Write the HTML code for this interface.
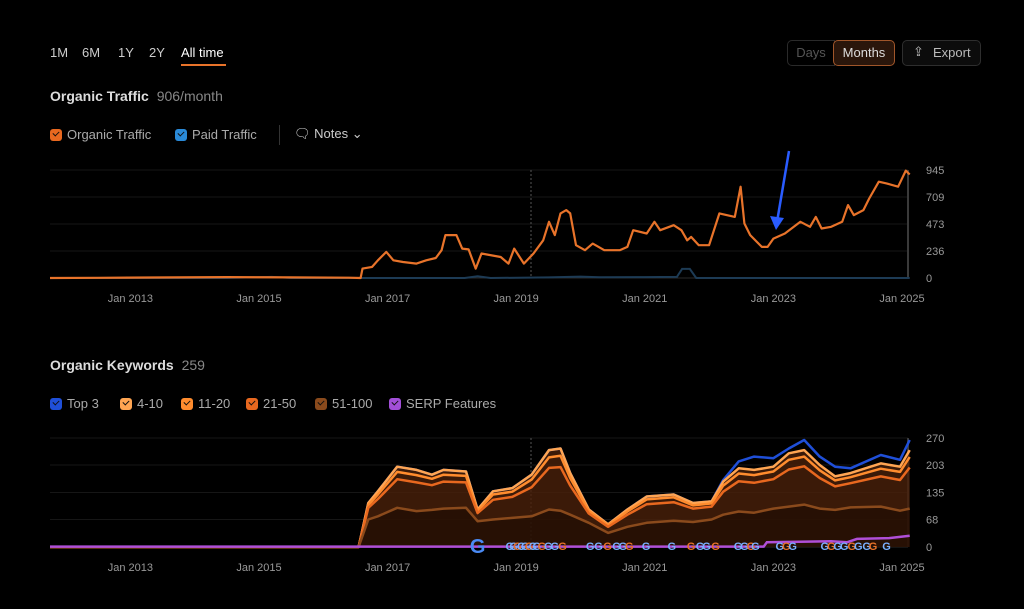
<!DOCTYPE html>
<html><head><meta charset="utf-8">
<style>
body{margin:0;width:1024px;height:609px;background:#000;overflow:hidden;font-family:"Liberation Sans",sans-serif;color:#ccc;}
.abs{position:absolute;}
.tab{position:absolute;top:45px;font-size:13px;color:#ccc;}
.chk{display:inline-block;width:12px;height:12px;border-radius:3px;vertical-align:-2px;margin-right:5px;position:relative}
.chk:after{content:"";position:absolute;left:3px;top:2px;width:5px;height:3px;border-left:1.5px solid #111;border-bottom:1.5px solid #111;transform:rotate(-45deg)}
.leg{position:absolute;font-size:13px;color:#aaa;}
</style></head><body>
<div class="tab" style="left:50px">1M</div>
<div class="tab" style="left:82px">6M</div>
<div class="tab" style="left:118px">1Y</div>
<div class="tab" style="left:149px">2Y</div>
<div class="tab" style="left:181px;color:#fff">All time</div>
<div class="abs" style="left:181px;top:64px;width:45px;height:2px;background:#e8732a"></div>

<div class="abs" style="left:787px;top:40px;width:46px;height:24px;border:1px solid #2a2a2a;border-radius:5px 0 0 5px;font-size:13px;color:#555;text-align:center;line-height:24px">Days</div>
<div class="abs" style="left:833px;top:40px;width:60px;height:24px;border:1px solid #a0562a;border-radius:5px;background:#2a160b;font-size:13px;color:#ddd;text-align:center;line-height:24px">Months</div>
<div class="abs" style="left:902px;top:40px;width:77px;height:24px;border:1px solid #2e2e2e;border-radius:5px;background:#0c0c0c;font-size:13px;color:#bbb;line-height:24px"><span style="position:absolute;left:10px;top:-1px;font-size:13px">⇪</span><span style="position:absolute;left:30px">Export</span></div>

<div class="abs" style="left:50px;top:88px;font-size:14px;font-weight:bold;color:#ddd">Organic Traffic <span style="font-weight:normal;color:#888;margin-left:4px">906/month</span></div>
<div class="leg" style="left:50px;top:127px"><span class="chk" style="background:#e8681f"></span>Organic Traffic</div>
<div class="leg" style="left:175px;top:127px"><span class="chk" style="background:#2a8ad8"></span>Paid Traffic</div>
<div class="abs" style="left:279px;top:125px;width:1px;height:20px;background:#333"></div>
<div class="leg" style="left:294px;top:126px;color:#ccc">🗨︎ Notes ⌄</div>

<div class="abs" style="left:50px;top:357px;font-size:14px;font-weight:bold;color:#ddd">Organic Keywords <span style="font-weight:normal;color:#888;margin-left:4px">259</span></div>
<div class="leg" style="left:50px;top:396px"><span class="chk" style="background:#1f4fd8"></span>Top 3</div>
<div class="leg" style="left:120px;top:396px"><span class="chk" style="background:#ffa552"></span>4-10</div>
<div class="leg" style="left:181px;top:396px"><span class="chk" style="background:#ff8c2e"></span>11-20</div>
<div class="leg" style="left:246px;top:396px"><span class="chk" style="background:#e8681f"></span>21-50</div>
<div class="leg" style="left:315px;top:396px"><span class="chk" style="background:#8a4a1c"></span>51-100</div>
<div class="leg" style="left:389px;top:396px"><span class="chk" style="background:#a24fd8"></span>SERP Features</div>

<svg id="svg" class="abs" style="left:0;top:0" width="1024" height="609"></svg>
<script>
const trafficYears=[2011.75,2012.5,2013.3,2014.5,2015.5,2016.4,2016.58,2016.61,2016.76,2016.85,2016.98,2017.09,2017.24,2017.45,2017.6,2017.75,2017.84,2017.9,2018.07,2018.16,2018.26,2018.37,2018.46,2018.76,2018.88,2018.97,2019.12,2019.27,2019.42,2019.51,2019.6,2019.69,2019.78,2019.84,2019.93,2020.07,2020.19,2020.37,2020.61,2020.73,2020.82,2021.03,2021.15,2021.24,2021.45,2021.57,2021.66,2021.72,2021.84,2022.0,2022.16,2022.4,2022.49,2022.55,2022.64,2022.82,2022.91,2023.0,2023.18,2023.42,2023.57,2023.66,2023.75,2023.9,2024.07,2024.16,2024.25,2024.4,2024.49,2024.64,2024.76,2024.94,2025.06,2025.12];
const organicTraffic=[0,2,4,8,5,3,0,82,97,155,228,155,140,126,155,175,243,375,375,257,250,82,214,184,126,257,126,214,330,492,375,565,594,565,287,243,301,243,243,272,418,389,492,418,462,418,330,360,287,287,565,535,799,477,375,272,272,345,389,492,448,535,433,448,492,638,550,594,696,843,828,799,940,906];
const paidYears=[2011.75,2014.5,2015.2,2015.5,2018.2,2018.4,2018.6,2019.5,2020.0,2020.3,2021.0,2021.5,2021.58,2021.7,2021.8,2022.0,2025.12];
const paidTraffic=[0,0,10,0,0,15,0,5,12,6,8,10,80,80,0,0,0];
const trafficTicks=[0,236,473,709,945];
const xTickYears=[2013,2015,2017,2019,2021,2023,2025];
const xTickLabels=["Jan 2013","Jan 2015","Jan 2017","Jan 2019","Jan 2021","Jan 2023","Jan 2025"];

const kwYears=[2011.75,2016.55,2016.7,2016.85,2017.15,2017.45,2017.69,2017.87,2018.22,2018.4,2018.64,2018.94,2019.24,2019.51,2019.69,2019.84,2020.13,2020.43,2020.73,2021.03,2021.45,2021.75,2022.04,2022.22,2022.46,2022.7,2023.0,2023.24,2023.48,2023.72,2023.96,2024.2,2024.67,2024.97,2025.12];
const kwTop3=[0,0,0,0,0,0,0,0,0,0,0,0,0,0,0,0,0,0,0,0,0,0,0,4,17,33,21,12,25,21,24,12,21,17,25];
const kw4to10=[0,0,5,8,13,13,10,12,11,4,8,9,12,18,18,12,4,2,5,7,7,6,5,10,13,13,12,16,16,13,10,10,13,13,17];
const kw11to20=[0,0,7,11,18,18,16,17,16,5,13,13,19,26,28,19,6,4,8,12,12,8,8,15,19,19,19,24,24,19,15,15,19,20,26];
const kw21to50=[0,0,29,43,71,71,61,67,63,20,49,52,72,103,108,72,23,15,30,46,46,33,32,57,75,74,73,92,95,76,58,60,75,76,102];
const kw51to100=[0,0,68,76,97,89,92,95,97,64,68,72,76,93,90,80,60,35,50,60,65,62,68,80,88,85,95,100,105,95,92,98,100,90,95];
const serpYears=[2011.75,2022.85,2022.9,2023.9,2024.15,2024.3,2024.8,2025.12];
const serpValues=[1,1,12,14,12,20,22,28];
const kwTicks=[0,68,135,203,270];
const gMarkerYears=[2018.4,2018.9,2018.96,2019.02,2019.08,2019.14,2019.2,2019.26,2019.32,2019.4,2019.5,2019.6,2019.72,2020.15,2020.28,2020.42,2020.56,2020.66,2020.76,2021.02,2021.42,2021.72,2021.86,2021.96,2022.1,2022.45,2022.55,2022.65,2022.72,2023.1,2023.2,2023.3,2023.8,2023.9,2024.0,2024.1,2024.22,2024.32,2024.45,2024.55,2024.76];

const NS="http://www.w3.org/2000/svg";
const svg=document.getElementById('svg');
function X(t){return 50+(t-2011.75)*64.3;}
function Y1(v){return 278-v/945*108;}
function Y2(v){return 547-v/270*109;}
function mk(tag,attrs,parent){const e=document.createElementNS(NS,tag);for(const k in attrs)e.setAttribute(k,attrs[k]);(parent||svg).appendChild(e);return e;}
function pathOf(ts,vs,Y){return ts.map((t,i)=>(i?'L':'M')+X(t).toFixed(1)+','+Y(vs[i]).toFixed(1)).join('');}

function axes(Y,ticks,top,bottom,labY,prefix){
  ticks.forEach((v,i)=>{
    const l=mk('line',{x1:50,x2:908,y1:Y(v),y2:Y(v),stroke:i==0?'#2a2a2a':'#161616','stroke-width':1});
    
    
    const tx=mk('text',{x:926,y:Y(v)+4,fill:'#999','font-size':11});
    tx.textContent=v;
    
    
  });
  xTickYears.forEach((yr,i)=>{
    const tx=mk('text',{x:X(yr),y:labY,fill:'#999','font-size':11,'text-anchor':'middle'});
    tx.textContent=xTickLabels[i];
    
    
  });
  const d=mk('line',{x1:531,x2:531,y1:top,y2:bottom,stroke:'#555','stroke-dasharray':'2,2'});
  
  
  const r=mk('line',{x1:908,x2:908,y1:top,y2:bottom,stroke:'#3a3a3a','stroke-width':2});
  
  
}
axes(Y1,trafficTicks,170,278,302,'traffic');
axes(Y2,kwTicks,438,547,571,'keywords');

let p=mk('path',{d:pathOf(paidYears,paidTraffic,Y1),fill:'none',stroke:'#1d3b55','stroke-width':2});


p=mk('path',{d:pathOf(trafficYears,organicTraffic,Y1),fill:'none',stroke:'#e8732a','stroke-width':2.2,'stroke-linejoin':'round'});



p=mk('path',{d:'M789,151 L777,222',stroke:'#2a5cff','stroke-width':2.5,fill:'none'});


p=mk('path',{d:'M770,216 L776,230 L784,218 Z',fill:'#2a5cff'});



const layers=[kw51to100,kw21to50,kw11to20,kw4to10,kwTop3];
const colors=['#8a4a1c','#e8681f','#ff8c2e','#ffa552','#1f4fd8'];
const names=['kw-51-100-line','kw-21-50-line','kw-11-20-line','kw-4-10-line','kw-top3-line'];
const cum=[];let acc=kwYears.map(()=>0);
layers.forEach(s=>{acc=acc.map((a,i)=>a+s[i]);cum.push(acc.slice());});
p=mk('path',{d:pathOf(kwYears,cum[3],Y2)+'L'+X(kwYears[kwYears.length-1])+','+Y2(0)+'L'+X(kwYears[0])+','+Y2(0)+'Z',fill:'#4a200a','fill-opacity':0.8});


p=mk('path',{d:pathOf(kwYears,cum[0],Y2)+'L'+X(kwYears[kwYears.length-1])+','+Y2(0)+'L'+X(kwYears[0])+','+Y2(0)+'Z',fill:'#1a0a02','fill-opacity':0.6});


for(let k=4;k>=0;k--){
  p=mk('path',{d:pathOf(kwYears,cum[k],Y2),fill:'none',stroke:colors[k],'stroke-width':2.5,'stroke-linejoin':'round'});
  
  
}
p=mk('path',{d:pathOf(serpYears,serpValues,Y2),fill:'none',stroke:'#b04fd8','stroke-width':2.5});



gMarkerYears.forEach((yr,i)=>{
  const big=i==0;
  const t=mk('text',{x:X(yr),y:big?553:550,fill:big?'#4a8af4':(i%3==0?'#e8732a':'#7ab0ff'),'font-size':big?20:11,'font-weight':'bold','text-anchor':'middle'});
  t.textContent='G';
  
  
});
</script>
</body></html>
